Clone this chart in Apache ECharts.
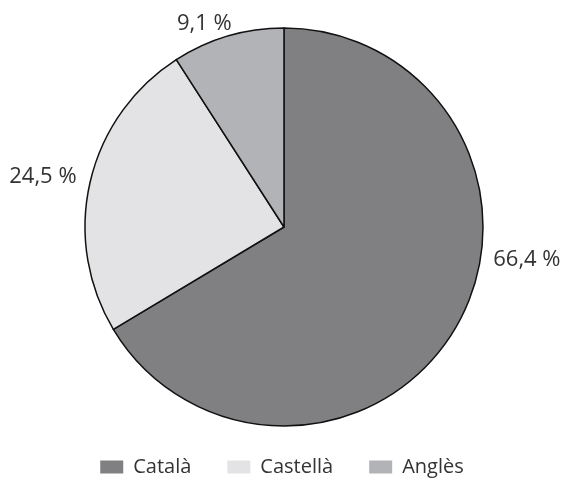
<!DOCTYPE html>
<html><head><meta charset="utf-8">
<script src="https://cdn.jsdelivr.net/npm/echarts@6/dist/echarts.min.js"></script>
<style>html,body{margin:0;padding:0;background:#fff}#c{width:564px;height:480px}</style>
</head><body><div id="c"></div>
<script>
const categories = ['Català', 'Castellà', 'Anglès'];
const values = [66.4, 24.5, 9.1];
const labels = ['66,4 %', '24,5 %', '9,1 %'];
const colors = ['#808083', '#e3e3e5', '#b2b3b6'];
const labelShift = [[3, -73], [21, -2], [28, 2]];

const chart = echarts.init(document.getElementById('c'));
chart.setOption({
  animation: false,
  textStyle: { fontFamily: 'Open Sans' },
  legend: {
    bottom: -2, left: 'center',
    itemWidth: 23, itemHeight: 13, itemGap: 36,
    icon: 'rect',
    itemStyle: { borderWidth: 0 },
    textStyle: { fontSize: 20, color: '#333', fontFamily: 'Open Sans', padding: [0, 0, 0, 5] },
    data: categories
  },
  series: [{
    type: 'pie',
    center: [284, 227],
    radius: 199,
    startAngle: 90,
    clockwise: true,
    label: {
      show: true, position: 'outside',
      formatter: p => labels[p.dataIndex],
      fontSize: 22, color: '#333', fontFamily: 'Open Sans',
      overflow: 'none'
    },
    labelLine: { show: false, length: 15, length2: 15 },
    labelLayout: p => ({ dx: labelShift[p.dataIndex][0], dy: labelShift[p.dataIndex][1], hideOverlap: false }),
    itemStyle: { borderColor: '#111', borderWidth: 1.5 },
    emphasis: { disabled: true },
    data: categories.map((c, i) => ({ name: c, value: values[i], itemStyle: { color: colors[i] } }))
  }]
});
</script></body></html>
